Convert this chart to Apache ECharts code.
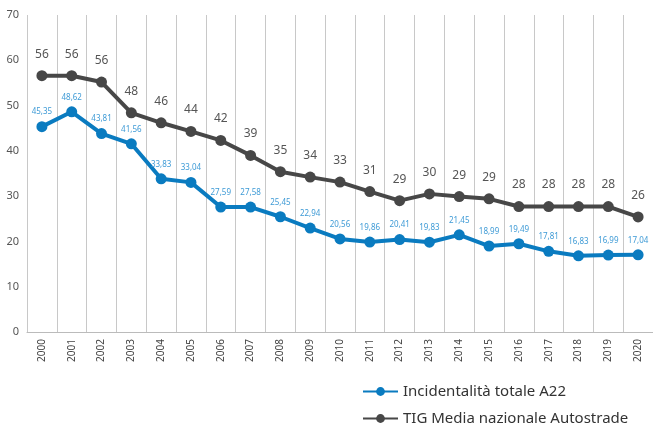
<!DOCTYPE html>
<html lang="it">
<head>
  <meta charset="UTF-8">
  <script src="https://cdn.jsdelivr.net/npm/echarts@6/dist/echarts.min.js"></script>
  <style>
    html, body { margin: 0; padding: 0; width: 100%; height: 100%; background: #fff; overflow: hidden; }
    #main { width: 653px; height: 425px; }
  </style>
</head>
<body>
  <div id="main"></div>
  <script>
    var years = ['2000', '2001', '2002', '2003', '2004', '2005', '2006', '2007', '2008', '2009', '2010',
      '2011', '2012', '2013', '2014', '2015', '2016', '2017', '2018', '2019', '2020'];
    // incidentalità totale A22
    var a22 = [45.35, 48.62, 43.81, 41.56, 33.83, 33.04, 27.59, 27.58, 25.45, 22.94, 20.56,
      19.86, 20.41, 19.83, 21.45, 18.99, 19.49, 17.81, 16.83, 16.99, 17.04];
    // TIG media nazionale (plotted position, and the rounded label shown)
    var tig = [56.6, 56.6, 55.2, 48.4, 46.2, 44.3, 42.3, 39.0, 35.4, 34.2, 33.1,
      31.0, 29.0, 30.5, 29.9, 29.4, 27.7, 27.7, 27.7, 27.7, 25.4];
    var tigLabels = ['56', '56', '56', '48', '46', '44', '42', '39', '35', '34', '33',
      '31', '29', '30', '29', '29', '28', '28', '28', '28', '26'];
    var seriesNames = ['Incidentalità totale A22', 'TIG Media nazionale Autostrade'];

    var myChart = echarts.init(document.getElementById('main'));
    var font = 'Noto Sans';

    // one legend per row, stacked by hand
    function legendRow(name, top) {
      return {
        left: 362,
        top: top,
        padding: 0,
        itemWidth: 35,
        itemHeight: 11,
        itemGap: 4,
        textStyle: { fontSize: 15, color: '#333', fontFamily: font },
        data: [name]
      };
    }

    var option = {
      backgroundColor: '#fff',
      animation: false,
      textStyle: { fontFamily: font },
      grid: { left: 27, top: 15, width: 630, bottom: 93, containLabel: false },
      legend: [legendRow(seriesNames[0], 384), legendRow(seriesNames[1], 411)],
      xAxis: {
        type: 'category',
        data: years,
        boundaryGap: true,
        axisLine: { lineStyle: { color: '#bbb', width: 1 } },
        axisTick: { show: false },
        splitLine: { show: true, lineStyle: { color: '#c8c8c8', width: 1 } },
        axisLabel: { rotate: 90, fontSize: 10, color: '#444', margin: 7, interval: 0 }
      },
      yAxis: {
        type: 'value',
        min: 0,
        max: 70,
        interval: 10,
        axisLine: { show: false },
        axisTick: { show: false },
        splitLine: { show: false },
        axisLabel: { fontSize: 11, color: '#555', margin: 8 }
      },
      series: [
        {
          name: seriesNames[0],
          type: 'line',
          data: a22,
          symbol: 'circle',
          symbolSize: 11,
          lineStyle: { color: '#0a7bc0', width: 4 },
          itemStyle: { color: '#0a7bc0' },
          label: {
            show: true,
            position: 'top',
            distance: 5,
            fontSize: 8,
            color: '#3f9bd6',
            formatter: function (p) { return p.value.toFixed(2).replace('.', ','); }
          },
          z: 3
        },
        {
          name: seriesNames[1],
          type: 'line',
          data: tig,
          symbol: 'circle',
          symbolSize: 11,
          lineStyle: { color: '#474747', width: 4 },
          itemStyle: { color: '#474747' },
          label: {
            show: true,
            position: 'top',
            distance: 10,
            fontSize: 12,
            color: '#555',
            formatter: function (p) { return tigLabels[p.dataIndex]; }
          },
          z: 2
        }
      ]
    };

    myChart.setOption(option);
  </script>
</body>
</html>
